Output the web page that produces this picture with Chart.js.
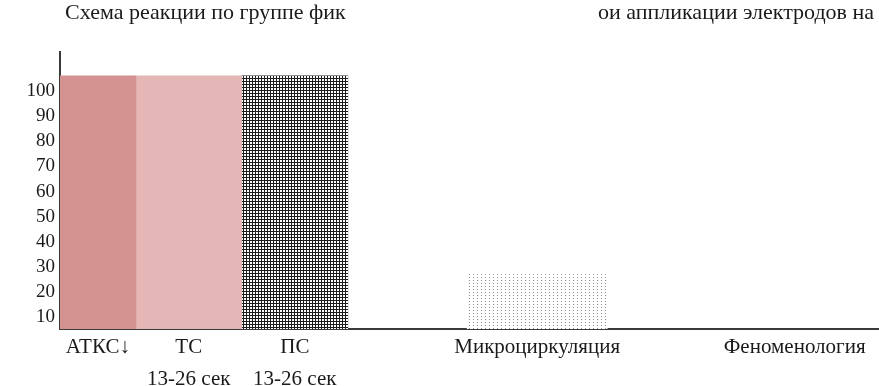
<!DOCTYPE html>
<html>
<head>
<meta charset="utf-8">
<script src="https://cdn.jsdelivr.net/npm/chart.js@4.4.0/dist/chart.umd.min.js"></script>
<style>
  html, body { margin: 0; padding: 0; background: #fff; }
  #wrap { width: 879px; height: 386px; }
</style>
</head>
<body>
<div id="wrap"><canvas id="myChart"></canvas></div>
<script>
// data
const titleLeft = 'Схема реакции по группе фик';
const titleRight = 'ои аппликации электродов на';
const categories = ['АТКС↓', ['ТС', '13-26 сек'], ['ПС', '13-26 сек'], 'Микроциркуляция', 'Феноменология'];
const values = [106, 106, 106, 27, null];
const yTicks = [10, 20, 30, 40, 50, 60, 70, 80, 90, 100];

// layout: the x axis is cut into narrow slots, each category sits in one
const slotOf = [2, 8, 15, 31, 48];
const slotCount = 54;

const serif = '"Liberation Serif", "Times New Roman", serif';

function gridPattern() {
  const c = document.createElement('canvas');
  c.width = 3; c.height = 3;
  const g = c.getContext('2d');
  g.fillStyle = '#fff'; g.fillRect(0, 0, 3, 3);
  g.fillStyle = '#1c1c1c';
  g.fillRect(0, 0, 3, 1);
  g.fillRect(0, 0, 1, 3);
  return g.createPattern(c, 'repeat');
}

function dotPattern() {
  const c = document.createElement('canvas');
  c.width = 4; c.height = 3;
  const g = c.getContext('2d');
  g.fillStyle = '#fff'; g.fillRect(0, 0, 4, 3);
  g.fillStyle = '#8c8c8c';
  g.fillRect(1, 1, 1, 1);
  return g.createPattern(c, 'repeat');
}

const fills = ['#d49391', '#e4b6b5', gridPattern(), dotPattern(), '#ccc'];
const widths = [76, 106, 106, 140, 60];

const labels = new Array(slotCount).fill('');
categories.forEach((c, i) => { labels[slotOf[i]] = c; });

const datasets = categories.map((c, i) => {
  const d = new Array(slotCount).fill(null);
  d[slotOf[i]] = values[i];
  return {
    data: d,
    backgroundColor: fills[i],
    borderWidth: 0,
    grouped: false,
    barThickness: widths[i]
  };
});

const titleText = {
  id: 'titleText',
  afterDraw(chart) {
    const ctx = chart.ctx;
    ctx.save();
    ctx.fillStyle = '#1a1a1a';
    ctx.font = '22px ' + serif;
    ctx.textBaseline = 'alphabetic';
    ctx.textAlign = 'left';
    ctx.fillText(titleLeft, 65, 19);
    ctx.textAlign = 'right';
    ctx.fillText(titleRight, 874, 19);
    ctx.restore();
  }
};

new Chart(document.getElementById('myChart'), {
  type: 'bar',
  data: { labels: labels, datasets: datasets },
  options: {
    responsive: true,
    maintainAspectRatio: false,
    animation: false,
    layout: { padding: { top: 52, right: 1, left: 0, bottom: 0 } },
    plugins: { legend: { display: false }, title: { display: false }, tooltip: { enabled: false } },
    scales: {
      x: {
        grid: { drawOnChartArea: false, drawTicks: false },
        border: { display: true, color: '#3a3a3a', width: 2 },
        ticks: {
          autoSkip: false, maxRotation: 0, minRotation: 0,
          color: '#1a1a1a', padding: 3,
          font: { family: serif, size: 21, lineHeight: 1.52 }
        },
        afterFit(s) { s.height = 57; }
      },
      y: {
        min: 5.4,
        max: 115.5,
        beginAtZero: false,
        grid: { drawOnChartArea: false, drawTicks: false },
        border: { display: true, color: '#3a3a3a', width: 2 },
        ticks: {
          color: '#1a1a1a', padding: 5,
          font: { family: serif, size: 19 }
        },
        afterBuildTicks(s) { s.ticks = yTicks.map(v => ({ value: v })); },
        afterFit(s) { s.width = 60; }
      }
    }
  },
  plugins: [titleText]
});
</script>
</body>
</html>
